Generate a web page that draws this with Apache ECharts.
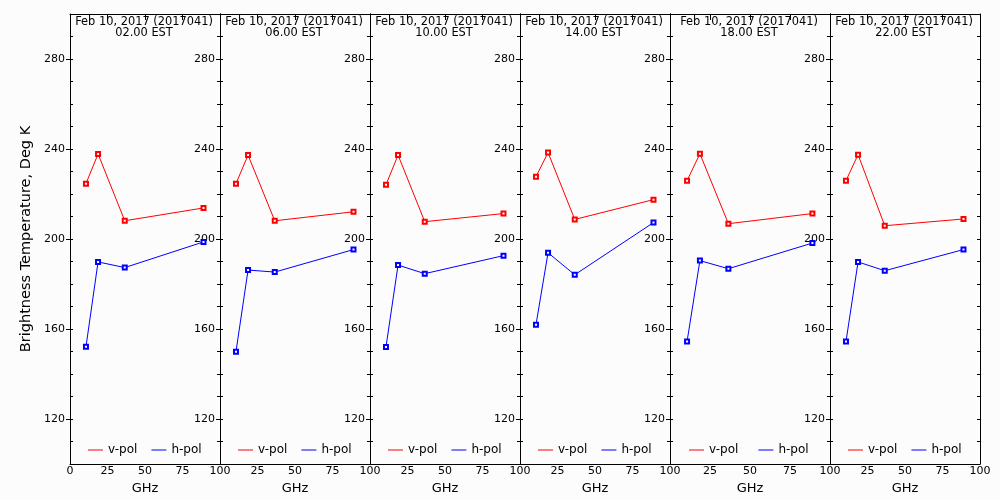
<!DOCTYPE html>
<html>
<head>
<meta charset="utf-8">
<script src="https://cdn.jsdelivr.net/npm/echarts@6/dist/echarts.min.js"></script>
<style>html,body{margin:0;padding:0;background:#fcfcfc;}#c{width:1000px;height:500px;}</style>
</head>
<body>
<div id="c"></div>
<script>
var freqs = [10.65, 18.7, 36.5, 89.0];
var times = ['02.00 EST', '06.00 EST', '10.00 EST', '14.00 EST', '18.00 EST', '22.00 EST'];
var dateLabel = 'Feb 10, 2017 (2017041)';
var vpol = [
  [224.6, 237.8, 208.1, 213.8],
  [224.6, 237.3, 208.1, 212.1],
  [224.1, 237.3, 207.7, 211.3],
  [227.7, 238.4, 208.7, 217.5],
  [225.9, 237.9, 206.8, 211.3],
  [225.9, 237.5, 205.9, 208.9]
];
var hpol = [
  [152.1, 189.8, 187.3, 198.7],
  [149.9, 186.2, 185.3, 195.3],
  [152.0, 188.4, 184.6, 192.6],
  [161.9, 193.9, 184.1, 207.3],
  [154.4, 190.4, 186.8, 198.2],
  [154.4, 189.8, 185.9, 195.3]
];
var yTickLabels = [120, 160, 200, 240, 280];
var xTickLabels = [0, 25, 50, 75, 100];

var panelLeft = [70, 220, 370, 520, 670, 830];
var panelWidth = [150, 150, 150, 150, 160, 150];
var FONT = 'DejaVu Sans';
var TOP = 14, H = 450;

var grid = [], xAxis = [], yAxis = [], series = [], legend = [], graphic = [];
for (var i = 0; i < 6; i++) {
  grid.push({left: panelLeft[i], top: TOP, width: panelWidth[i], height: H, containLabel: false});
  xAxis.push({
    type: 'value', gridIndex: i, min: 0, max: 100, interval: 25, position: 'bottom',
    axisLine: {show: true, lineStyle: {color: '#000', width: 1}},
    axisTick: {show: false},
    splitLine: {show: false},
    axisLabel: {show: true, color: '#000', fontSize: 11, fontFamily: FONT, margin: 2,
      showMinLabel: i === 0, customValues: xTickLabels},
    name: 'GHz', nameLocation: 'middle', nameGap: 15,
    nameTextStyle: {color: '#000', fontSize: 13, fontFamily: FONT}
  });
  xAxis.push({
    type: 'value', gridIndex: i, min: 0, max: 100, interval: 25, position: 'top',
    axisLine: {show: true, lineStyle: {color: '#000', width: 1}},
    axisTick: {show: true, inside: true, length: 6, lineStyle: {color: '#000'}},
    splitLine: {show: false},
    axisLabel: {show: false}
  });
  var ya = {
    type: 'value', gridIndex: i, min: 100, max: 300, position: 'left',
    axisLine: {show: true, lineStyle: {color: '#000', width: 1}},
    axisTick: {show: true, inside: false, length: 4, customValues: yTickLabels, lineStyle: {color: '#000'}},
    splitLine: {show: false},
    axisLabel: {show: true, color: '#000', fontSize: 11, fontFamily: FONT, margin: 5, customValues: yTickLabels}
  };
  if (i === 0) {
    ya.name = 'Brightness Temperature, Deg K';
    ya.nameLocation = 'middle';
    ya.nameGap = 36;
    ya.nameTextStyle = {color: '#000', fontSize: 14.5, fontFamily: FONT};
  }
  yAxis.push(ya);
  yAxis.push({
    type: 'value', gridIndex: i, min: 100, max: 300, interval: 10, position: 'left',
    axisLine: {show: false},
    axisTick: {show: true, inside: true, length: 3, lineStyle: {color: '#000'}},
    splitLine: {show: false},
    axisLabel: {show: false}
  });
  yAxis.push({
    type: 'value', gridIndex: i, min: 100, max: 300, interval: 10, position: 'right',
    axisLine: {show: true, lineStyle: {color: '#000', width: 1}},
    axisTick: {show: true, inside: true, length: 3, lineStyle: {color: '#000'}},
    splitLine: {show: false},
    axisLabel: {show: false}
  });
  var vData = [], hData = [];
  for (var k = 0; k < freqs.length; k++) {
    vData.push([freqs[k], vpol[i][k]]);
    hData.push([freqs[k], hpol[i][k]]);
  }
  series.push({
    name: 'v-pol', type: 'line', xAxisIndex: i * 2, yAxisIndex: i * 3, data: vData,
    symbol: 'emptyRect', symbolSize: 4, showAllSymbol: true,
    itemStyle: {color: '#ff0000', borderWidth: 1}, lineStyle: {color: '#ff0000', width: 1},
    emphasis: {disabled: true}
  });
  series.push({
    name: 'h-pol', type: 'line', xAxisIndex: i * 2, yAxisIndex: i * 3, data: hData,
    symbol: 'emptyRect', symbolSize: 4, showAllSymbol: true,
    itemStyle: {color: '#0000ff', borderWidth: 1}, lineStyle: {color: '#0000ff', width: 1},
    emphasis: {disabled: true}
  });
  legend.push({
    left: panelLeft[i] + (panelWidth[i] > 150 ? 19 : 18), top: 444, padding: 0,
    orient: 'horizontal', icon: 'rect', itemWidth: 15, itemHeight: 1,
    itemGap: panelWidth[i] > 150 ? 20 : 14, selectedMode: false,
    textStyle: {color: '#000', fontSize: 12, fontFamily: FONT, lineHeight: 12},
    data: ['v-pol', 'h-pol']
  });
  graphic.push({
    type: 'text', x: panelLeft[i] + panelWidth[i] / 2 - 1, y: 16,
    style: {text: dateLabel + '\n' + times[i], align: 'center', verticalAlign: 'top',
      fontSize: 11.4, fontFamily: FONT, lineHeight: 11.5, fill: '#000'}
  });
}

var chart = echarts.init(document.getElementById('c'));
chart.setOption({
  backgroundColor: '#fcfcfc',
  animation: false,
  grid: grid, xAxis: xAxis, yAxis: yAxis, series: series, legend: legend, graphic: graphic
});
</script>
</body>
</html>
